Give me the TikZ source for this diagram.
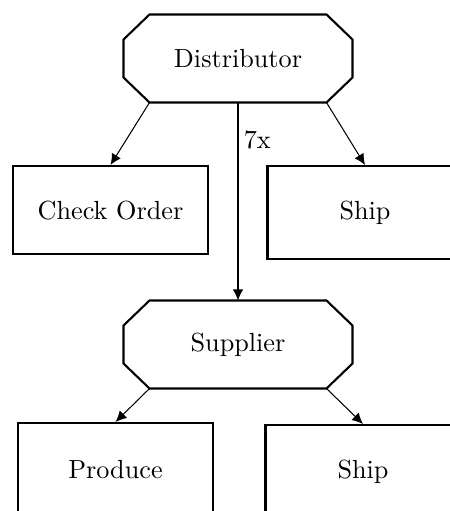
\documentclass[tikz,border=0pt]{standalone}
\usetikzlibrary{calc,arrows.meta}

% chamfered outline around a named node (chamfer given in picture units)
\newcommand\octoutline[1]{%
  \draw[octline]
    ($(#1.north west)+(26,0)$) -- ($(#1.north east)+(-26,0)$)
    -- ($(#1.north east)+(0,25)$) -- ($(#1.south east)+(0,-25)$)
    -- ($(#1.south east)+(-26,0)$) -- ($(#1.south west)+(26,0)$)
    -- ($(#1.south west)+(0,-25)$) -- ($(#1.north west)+(0,25)$) -- cycle;
  \coordinate (#1-bl) at ($(#1.south west)+(26,0)$);
  \coordinate (#1-br) at ($(#1.south east)+(-26,0)$);
}

\tikzset{
  role/.style={minimum width=87pt, minimum height=33.2pt, inner sep=0pt},
  octline/.style={line width=0.8pt, line join=miter},
  task/.style={draw, line width=0.8pt, minimum width=74.4pt, inner xsep=4pt, inner ysep=13.2pt, anchor=north},
  arr/.style={line width=0.4pt, -{Latex[length=4.2pt,width=4pt]}},
  count/.style={right, inner sep=2pt}
}

\begin{document}
\begin{tikzpicture}[x=0.3817pt, y=-0.3817pt]
  \useasboundingbox (0,0) rectangle (450,511);
  \clip (0,0) rectangle (450,511);

  % distributor and its tasks
  \node[role] (dist) at (238,58.5) {Distributor};
  \octoutline{dist}
  \node[task] (check) at (110.5,165) {Check Order};
  \node[task] (ship1) at (365,165) {Ship};
  \draw[arr] (dist-bl) -- (check.north);
  \draw[arr] (dist-br) -- (ship1.north);

  % supplier and its tasks
  \node[role] (sup) at (238,344.5) {Supplier};
  \octoutline{sup}
  \node[task, minimum height=35.6pt] (produce) at (115.5,422) {Produce};
  \node[task] (ship2) at (363,424) {Ship};
  \draw[arr] (sup-bl) -- (produce.north);
  \draw[arr] (sup-br) -- (ship2.north);

  % repeated call from distributor to supplier
  \draw[arr] (dist.south) -- node[count, pos=0.19] {7x} (sup.north);
\end{tikzpicture}
\end{document}
